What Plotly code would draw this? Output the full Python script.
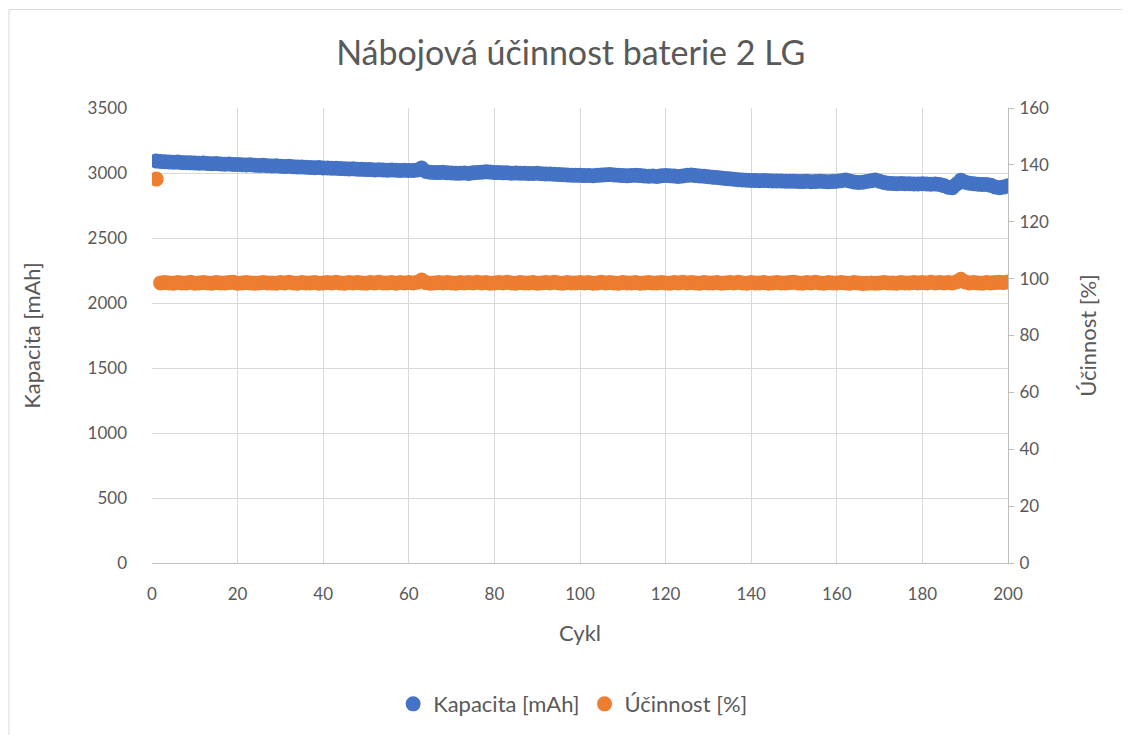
import plotly.graph_objects as go

# ---- data ----
cycles = list(range(1, 201))

capacity = [
    3092, 3088, 3086, 3085, 3083, 3084, 3080, 3079, 3078, 3077,
    3075, 3076, 3073, 3072, 3074, 3070, 3068, 3069, 3066, 3065,
    3064, 3062, 3063, 3060, 3058, 3059, 3056, 3054, 3055, 3052,
    3050, 3051, 3048, 3046, 3047, 3044, 3043, 3041, 3042, 3039,
    3038, 3036, 3037, 3034, 3033, 3031, 3032, 3029, 3028, 3027,
    3026, 3024, 3025, 3023, 3022, 3024, 3021, 3020, 3022, 3019,
    3020, 3024, 3038, 3012, 3006, 3004, 3003, 3005, 3001, 3000,
    2999, 2998, 3000, 2997, 3001, 3004, 3006, 3009, 3007, 3004,
    3003, 3001, 3002, 2999, 3000, 2998, 2999, 2997, 2996, 2998,
    2995, 2993, 2992, 2990, 2988, 2986, 2985, 2983, 2982, 2982,
    2980, 2981, 2979, 2982, 2984, 2986, 2988, 2985, 2983, 2980,
    2978, 2981, 2983, 2980, 2977, 2975, 2976, 2974, 2978, 2981,
    2979, 2976, 2973, 2977, 2982, 2984, 2980, 2977, 2975, 2972,
    2968, 2965, 2962, 2958, 2955, 2952, 2949, 2947, 2945, 2943,
    2942, 2941, 2942, 2940, 2939, 2938, 2939, 2937, 2936, 2936,
    2935, 2934, 2936, 2933, 2934, 2936, 2935, 2932, 2934, 2937,
    2941, 2946, 2939, 2931, 2927, 2929, 2935, 2941, 2946, 2937,
    2927, 2921, 2919, 2918, 2919, 2917, 2918, 2916, 2915, 2917,
    2916, 2914, 2915, 2912, 2903, 2890, 2886, 2915, 2945, 2929,
    2921, 2917, 2914, 2911, 2912, 2905, 2893, 2887, 2892, 2902,
]

efficiency = [
    135.0, 98.5, 98.6, 98.5, 98.4, 98.6, 98.5, 98.5, 98.7, 98.4,
    98.5, 98.6, 98.5, 98.4, 98.6, 98.5, 98.5, 98.6, 98.7, 98.4,
    98.5, 98.6, 98.5, 98.4, 98.5, 98.6, 98.5, 98.5, 98.4, 98.6,
    98.5, 98.7, 98.5, 98.4, 98.6, 98.5, 98.5, 98.6, 98.4, 98.5,
    98.6, 98.5, 98.7, 98.5, 98.4, 98.6, 98.5, 98.6, 98.5, 98.4,
    98.6, 98.5, 98.7, 98.5, 98.5, 98.6, 98.4, 98.6, 98.5, 98.6,
    98.5, 98.7, 99.5, 98.6, 98.4, 98.5, 98.6, 98.5, 98.6, 98.5,
    98.4, 98.6, 98.5, 98.6, 98.5, 98.7, 98.5, 98.6, 98.4, 98.5,
    98.6, 98.5, 98.7, 98.5, 98.4, 98.6, 98.5, 98.5, 98.6, 98.4,
    98.5, 98.6, 98.5, 98.7, 98.5, 98.4, 98.6, 98.5, 98.5, 98.6,
    98.5, 98.6, 98.4, 98.5, 98.7, 98.5, 98.6, 98.5, 98.4, 98.6,
    98.5, 98.5, 98.6, 98.4, 98.5, 98.6, 98.5, 98.5, 98.6, 98.5,
    98.4, 98.6, 98.5, 98.7, 98.5, 98.6, 98.5, 98.4, 98.6, 98.5,
    98.5, 98.6, 98.4, 98.5, 98.6, 98.5, 98.7, 98.5, 98.4, 98.6,
    98.5, 98.5, 98.6, 98.4, 98.5, 98.6, 98.5, 98.5, 98.6, 98.7,
    98.5, 98.4, 98.6, 98.5, 98.7, 98.5, 98.4, 98.6, 98.5, 98.5,
    98.6, 98.5, 98.4, 98.6, 98.5, 98.3, 98.4, 98.5, 98.4, 98.5,
    98.6, 98.5, 98.5, 98.4, 98.6, 98.5, 98.5, 98.6, 98.5, 98.6,
    98.5, 98.7, 98.5, 98.6, 98.5, 98.6, 98.5, 98.9, 99.8, 98.8,
    98.5, 98.6, 98.5, 98.4, 98.6, 98.5, 98.6, 98.7, 98.6, 98.8,
]

title_text = "Nábojová účinnost baterie 2 LG"
name_cap = "Kapacita [mAh]"
name_eff = "Účinnost [%]"
x_title = "Cykl"

FONT = "Lato"
GRAY = "#595959"

fig = go.Figure()
fig.add_trace(go.Scatter(
    x=cycles, y=capacity, mode="markers", name=name_cap,
    marker=dict(color="#4472C4", size=15, line=dict(width=0)),
))
fig.add_trace(go.Scatter(
    x=cycles, y=efficiency, mode="markers", name=name_eff, yaxis="y2",
    marker=dict(color="#ED7D31", size=15, line=dict(width=0)),
))

fig.update_layout(
    width=1130, height=735,
    margin=dict(l=144, r=130, t=100, b=180),
    paper_bgcolor="white", plot_bgcolor="white",
    font=dict(family=FONT, color=GRAY, size=17),
    title=dict(text=title_text, x=0.498, xanchor="center", y=0.939, yanchor="middle",
               font=dict(family=FONT, size=34, color=GRAY)),
    xaxis=dict(range=[0, 200], dtick=20, showgrid=True, gridcolor="#d9d9d9", gridwidth=1,
               zeroline=False, showline=True, linecolor="#bfbfbf", linewidth=1,
               ticks="", ticklabelstandoff=16,
               tickfont=dict(size=17, color=GRAY),
               title=dict(text=x_title, font=dict(size=22, color=GRAY), standoff=22)),
    yaxis=dict(range=[0, 3500], dtick=500, showgrid=True, gridcolor="#d9d9d9", gridwidth=1,
               zeroline=False, showline=False, ticks="", ticklabelstandoff=24,
               tickfont=dict(size=17, color=GRAY),
               title=dict(text=name_cap, font=dict(size=22, color=GRAY), standoff=40)),
    yaxis2=dict(range=[0, 160], dtick=20, overlaying="y", side="right", showgrid=False,
                zeroline=False, showline=True, linecolor="#bfbfbf", linewidth=1,
                ticks="outside", ticklen=5, tickcolor="#bfbfbf", ticklabelstandoff=2,
                tickfont=dict(size=17, color=GRAY),
                title=dict(text=name_eff, font=dict(size=22, color=GRAY), standoff=32)),
    legend=dict(orientation="h", x=0.492, xanchor="center", y=-0.31, yanchor="middle",
                font=dict(size=22, color=GRAY), itemwidth=30, bgcolor="rgba(0,0,0,0)"),
    showlegend=True,
)

# chart-area border
fig.add_shape(type="rect", xref="paper", yref="paper",
              x0=(9 - 152) / 856, x1=(1140 - 152) / 856,
              y0=(563 - 760) / 455, y1=(563 - 9.5) / 455,
              line=dict(color="#d9d9d9", width=1), fillcolor="rgba(0,0,0,0)", layer="below")

fig.write_html("out.html")
